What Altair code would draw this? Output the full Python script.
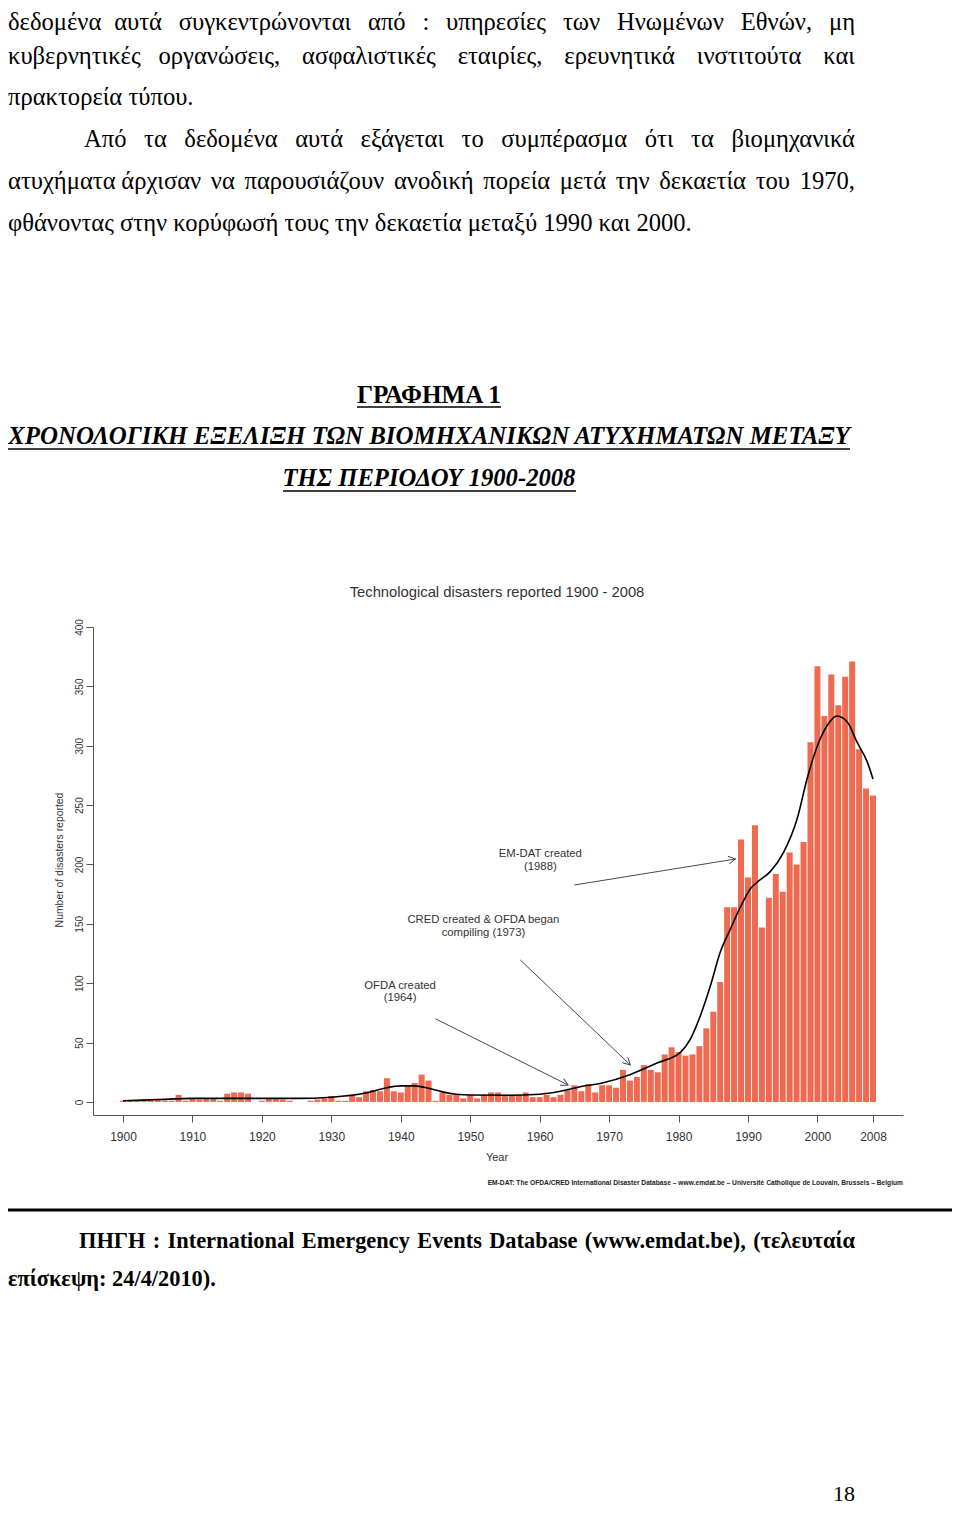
import math
import os
import glob
import altair as alt
import pandas as pd

# ---------------- chart data ----------------
years = list(range(1900, 2009))
disasters = [1, 1, 1, 2, 2, 2, 1, 1, 6, 1,            # 1900-1909
             3, 2, 3, 3, 1, 7, 8, 8, 7, 0,            # 1910-1919
             1, 3, 3, 2, 1, 0, 0, 1, 2, 3,            # 1920-1929
             5, 1, 1, 5, 4, 9, 10, 9, 20, 9,          # 1930-1939
             8, 13, 16, 23, 18, 1, 8, 6, 6, 3,        # 1940-1949
             6, 3, 6, 8, 8, 6, 6, 6, 8, 4,            # 1950-1959
             4, 6, 4, 6, 10, 14, 9, 15, 8, 14,        # 1960-1969
             14, 12, 27, 18, 21, 31, 27, 25, 40, 46,  # 1970-1979
             42, 39, 40, 47, 62, 76, 101, 164, 164, 221,   # 1980-1989
             189, 233, 147, 172, 192, 177, 210, 200, 219, 303,  # 1990-1999
             367, 325, 360, 334, 358, 371, 297, 264, 258]  # 2000-2008

trend_years = [1900, 1905, 1910, 1915, 1920, 1925, 1930, 1935, 1938, 1940,
               1942, 1944, 1946, 1948, 1950, 1955, 1960, 1963, 1966, 1969,
               1973, 1977, 1980.3, 1981.7, 1983.1, 1984.6, 1986, 1987.5, 1988.9, 1990.4,
               1991.3, 1993.2, 1995.1, 1997.1, 1998.5, 2000, 2001.4, 2002.8, 2004.3, 2005.7,
               2007.2, 2008]
trend_values = [1, 2, 3, 3, 3, 3, 4, 7.5, 12, 13.5,
                13.5, 11.5, 8.5, 6.5, 5.8, 5.6, 6.5, 9, 13, 16,
                23, 33, 42, 53, 72, 98, 126, 146, 164, 180,
                185, 194, 210, 239, 272, 300, 317, 325, 320, 303,
                286, 272]

note_text = ["EM-DAT created", "(1988)", "CRED created & OFDA began",
             "compiling (1973)", "OFDA created", "(1964)"]
note_year = [1960.1, 1960.1, 1951.9, 1951.9, 1939.9, 1939.9]
note_value = [208.8, 197.9, 153.0, 142.0, 97.7, 87.6]

arrow_from_year = [1945.0, 1957.2, 1965.0]
arrow_from_value = [70.0, 119.6, 182.7]
arrow_to_year = [1964.1, 1973.05, 1988.2]
arrow_to_value = [14.3, 31.2, 204.6]

x_ticks = [1900, 1910, 1920, 1930, 1940, 1950, 1960, 1970, 1980, 1990, 2000, 2008]
y_ticks = [0, 50, 100, 150, 200, 250, 300, 350, 400]

# ---------------- page text ----------------
para1_line1 = ["δεδομένα", "αυτά", "συγκεντρώνονται", "από", ":", "υπηρεσίες", "των",
               "Ηνωμένων", "Εθνών,", "μη"]
para1_line2 = ["κυβερνητικές", "οργανώσεις,", "ασφαλιστικές", "εταιρίες,", "ερευνητικά",
               "ινστιτούτα", "και"]
para1_line3 = "πρακτορεία τύπου."
para2_line1 = ["Από", "τα", "δεδομένα", "αυτά", "εξάγεται", "το", "συμπέρασμα", "ότι",
               "τα", "βιομηχανικά"]
para2_line2 = ["ατυχήματα", "άρχισαν", "να", "παρουσιάζουν", "ανοδική", "πορεία", "μετά",
               "την", "δεκαετία", "του", "1970,"]
para2_line3 = "φθάνοντας στην κορύφωσή τους την δεκαετία μεταξύ 1990 και 2000."
heading1 = "ΓΡΑΦΗΜΑ 1"
heading2 = "ΧΡΟΝΟΛΟΓΙΚΗ ΕΞΕΛΙΞΗ ΤΩΝ ΒΙΟΜΗΧΑΝΙΚΩΝ ΑΤΥΧΗΜΑΤΩΝ ΜΕΤΑΞΥ"
heading3 = "ΤΗΣ ΠΕΡΙΟΔΟΥ 1900-2008"
source_line1 = ["ΠΗΓΗ", ":", "International", "Emergency", "Events", "Database",
                "(www.emdat.be),", "(τελευταία"]
source_line2 = "επίσκεψη: 24/4/2010)."
chart_title = "Technological disasters reported 1900 - 2008"
y_title = "Number of disasters reported"
x_title = "Year"
footer = ("EM-DAT: The OFDA/CRED International Disaster Database \u2013 www.emdat.be \u2013 "
          "Universit\u00e9 Catholique de Louvain, Brussels \u2013 Belgium")

# ---------------- layout ----------------
PLOT_W, PLOT_H = 810, 488
X_DOMAIN = [1895.68, 2012.32]
Y_DOMAIN = [-11, 400]
ORIGIN_X, ORIGIN_Y = 93, 627           # page position of the plot's top-left corner
PAD = {"left": 85, "top": 619, "right": 944 - 85 - PLOT_W, "bottom": 1500 - 619 - PLOT_H}

SERIF = "Liberation Serif"
SANS = "Liberation Sans"
BAR = "#EE6A50"
GREY = "#333333"

# text measuring (for justification / fitting widths)
_FONT_FILES = {
    ("serif", "normal", "normal"): "LiberationSerif-Regular.ttf",
    ("serif", "bold", "normal"): "LiberationSerif-Bold.ttf",
    ("serif", "bold", "italic"): "LiberationSerif-BoldItalic.ttf",
    ("sans", "normal", "normal"): "LiberationSans-Regular.ttf",
    ("sans", "bold", "normal"): "LiberationSans-Bold.ttf",
}
_cache = {}


def _pil_font(key):
    if key in _cache:
        return _cache[key]
    f = None
    try:
        from PIL import ImageFont
        name = _FONT_FILES[key]
        hits = []
        for root in ["/usr/share/fonts", "/usr/local/share/fonts",
                     os.path.expanduser("~/.fonts"), os.path.expanduser("~/.local/share/fonts")]:
            hits += glob.glob(os.path.join(root, "**", name), recursive=True)
        if hits:
            f = ImageFont.truetype(hits[0], 200)
    except Exception:
        f = None
    _cache[key] = f
    return f


def text_width(s, size, family="serif", weight="normal", style="normal"):
    f = _pil_font((family, weight, style))
    if f is not None:
        try:
            return f.getlength(s) * size / 200.0
        except Exception:
            pass
    avg = 0.47 if family == "serif" else 0.5
    if weight == "bold":
        avg += 0.04
    return len(s) * avg * size


def fit_size(s, width, family="serif", weight="normal", style="normal"):
    return width / text_width(s, 1.0, family, weight, style)


def px(page_x):
    return max(page_x, 8) - ORIGIN_X


def py(page_y):
    return page_y - ORIGIN_Y


BLANK = alt.Data(values=[{"k": 0}])


def txt(s, x, y, size, font=SERIF, weight="normal", style="normal",
        align="left", baseline="middle", color="#000000", angle=0):
    return alt.Chart(BLANK).mark_text(
        text=s, fontSize=size, font=font, fontWeight=weight, fontStyle=style,
        align=align, baseline=baseline, color=color, angle=angle
    ).encode(x=alt.value(px(x)), y=alt.value(py(y)))


def hline(x1, x2, y, width=1.2, color="#000000"):
    return alt.Chart(BLANK).mark_rule(color=color, strokeWidth=width).encode(
        x=alt.value(px(x1)), x2=alt.value(px(x2)), y=alt.value(py(y)))


def justified(words, x0, x1, y, size, weight="normal"):
    ws = [text_width(w, size, "serif", weight) for w in words]
    gap = (x1 - x0 - sum(ws)) / (len(words) - 1)
    gap = max(gap, 0.2 * size)
    layers, x = [], x0
    for i, (w, wd) in enumerate(zip(words, ws)):
        if i == len(words) - 1:
            layers.append(txt(w, x1, y, size, weight=weight, align="right"))
        else:
            layers.append(txt(w, x, y, size, weight=weight))
        x += wd + gap
    return layers


# ---------------- scales / axes ----------------
xs = alt.Scale(domain=X_DOMAIN, nice=False, zero=False, padding=0)
ys = alt.Scale(domain=Y_DOMAIN, nice=False, zero=False, padding=0)
x_axis = alt.Axis(values=x_ticks, format="d", title=None, grid=False,
                  labelFont=SANS, labelFontSize=12, labelColor=GREY,
                  labelPadding=9, labelFlush=False, labelOverlap=False,
                  tickSize=7, tickColor="#555555", domainColor="#555555",
                  tickWidth=1, domainWidth=1)
y_axis = alt.Axis(values=y_ticks, format="d", title=None, grid=False,
                  labelFont=SANS, labelFontSize=10, labelColor=GREY,
                  labelAngle=270, labelAlign="center", labelBaseline="bottom",
                  labelPadding=2, labelFlush=False, labelOverlap=False,
                  tickSize=7, tickColor="#555555", domainColor="#555555",
                  tickWidth=1, domainWidth=1)


def X(field="year"):
    return alt.X(f"{field}:Q", scale=xs, axis=x_axis)


def Y(field="value"):
    return alt.Y(f"{field}:Q", scale=ys, axis=y_axis)


bars_df = pd.DataFrame({"year": years, "value": disasters})
trend_df = pd.DataFrame({"year": trend_years, "value": trend_values})
notes_df = pd.DataFrame({"year": note_year, "value": note_value, "note": note_text})

kx = PLOT_W / (X_DOMAIN[1] - X_DOMAIN[0])
ky = PLOT_H / (Y_DOMAIN[1] - Y_DOMAIN[0])
arrow_angle = [math.degrees(math.atan2(-(tv - fv) * ky, (ty - fy) * kx)) % 360
               for fy, fv, ty, tv in zip(arrow_from_year, arrow_from_value,
                                         arrow_to_year, arrow_to_value)]
arrows_df = pd.DataFrame({"year": arrow_from_year, "value": arrow_from_value,
                          "year2": arrow_to_year, "value2": arrow_to_value})
heads_df = pd.DataFrame({"year": arrow_to_year, "value": arrow_to_value,
                         "ang": arrow_angle})

note_size = min(max(fit_size("CRED created & OFDA began", 152, "sans"), 10), 12.5)

bars = alt.Chart(bars_df).mark_bar(width=6, color=BAR).encode(x=X(), y=Y())
trend = alt.Chart(trend_df).mark_line(color="black", strokeWidth=1.6,
                                      interpolate="monotone").encode(x=X(), y=Y())
arrows = alt.Chart(arrows_df).mark_rule(color="#333333", strokeWidth=0.9).encode(
    x=X(), y=Y(), x2="year2:Q", y2="value2:Q")
heads = alt.Chart(heads_df).mark_point(
    shape="M -1 -0.55 L 0 0 L -1 0.55", size=196, filled=False,
    strokeWidth=0.9, color="#333333", opacity=1
).encode(x=X(), y=Y(), angle=alt.Angle("ang:Q", scale=None))
notes = alt.Chart(notes_df).mark_text(font=SANS, fontSize=note_size, color=GREY,
                                      align="center", baseline="middle").encode(
    x=X(), y=Y(), text="note:N")

title_size = min(max(fit_size(chart_title, 295, "sans"), 12), 16)
ytitle_size = min(max(fit_size(y_title, 135, "sans"), 9), 12)
footer_size = min(max(fit_size(footer, 416, "sans", "bold"), 5.5), 8)

chart_texts = [
    txt(chart_title, 497, 593, title_size, font=SANS, align="center", color=GREY),
    txt(y_title, 60, 860, ytitle_size, font=SANS, align="center", color=GREY, angle=270),
    txt(x_title, 497, 1158, 11, font=SANS, align="center", color=GREY),
    txt(footer, 903, 1183, footer_size, font=SANS, weight="bold", align="right",
        color="#222222"),
]

# body font size from the (not justified) last line of the paragraph
FS = min(max(fit_size(para2_line3, 684), 20), 27)
H1 = min(max(fit_size(heading1, 144, weight="bold"), 20), 28)
H2 = min(max(fit_size(heading2, 842, weight="bold", style="italic"), 20), 28)
H3 = min(max(fit_size(heading3, 293, weight="bold", style="italic"), 20), 28)
SRC = min(max(fit_size(source_line2, 208, weight="bold"), 19), 25)

page = []
page += justified(para1_line1, 4, 855, 23, FS)
page += justified(para1_line2, 4, 855, 57, FS)
page.append(txt(para1_line3, 4, 98, FS))
page += justified(para2_line1, 84, 855, 140, FS)
page += justified(para2_line2, 4, 855, 182, FS)
page.append(txt(para2_line3, 4, 224, FS))

page.append(txt(heading1, 429, 395, H1, weight="bold", align="center"))
page.append(hline(357, 501, 407, 1.3))
page.append(txt(heading2, 429, 437, H2, weight="bold", style="italic", align="center"))
page.append(hline(8, 850, 449, 1.3))
page.append(txt(heading3, 429, 479, H3, weight="bold", style="italic", align="center"))
page.append(hline(283, 576, 491, 1.3))

page.append(hline(4, 957, 1210, 3))
page += justified(source_line1, 79, 855, 1241, SRC, weight="bold")
page.append(txt(source_line2, 4, 1279, SRC, weight="bold"))
page.append(txt("18", 855, 1501, 22, align="right", baseline="alphabetic"))

chart = alt.layer(
    bars, trend, arrows, heads, notes, *chart_texts, *page
).properties(
    width=PLOT_W, height=PLOT_H, padding=PAD,
    autosize=alt.AutoSizeParams(type="none"),
    background="white",
).configure_view(stroke=None)

chart.save("out.html", embed_options={"renderer": "svg", "actions": False})
